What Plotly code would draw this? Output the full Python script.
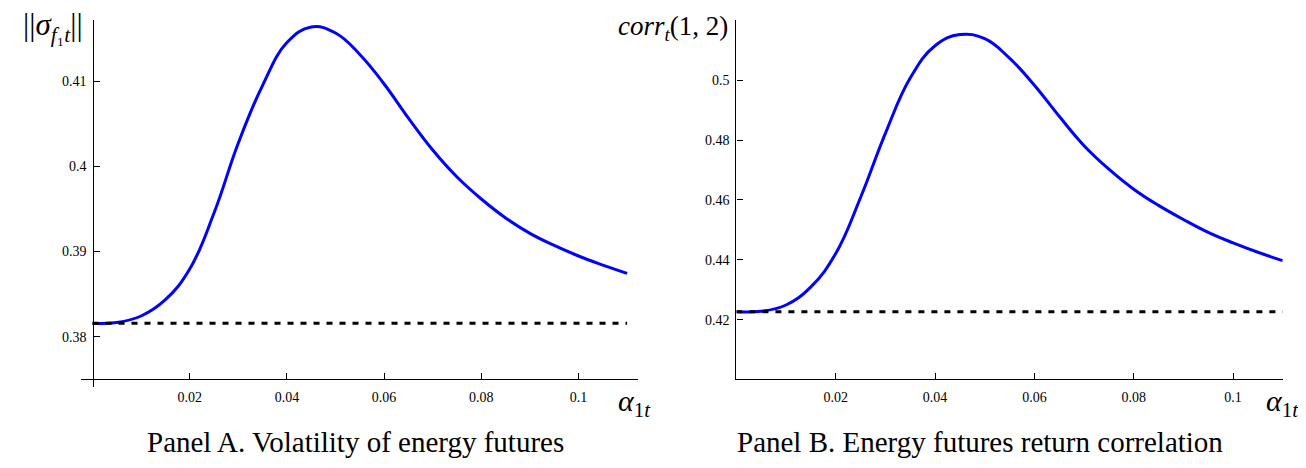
import plotly.graph_objects as go

# ---- data ----
alpha = [0.0, 0.005, 0.01, 0.015, 0.02, 0.025, 0.03, 0.035, 0.04, 0.045,
         0.05, 0.055, 0.06, 0.065, 0.07, 0.075, 0.08, 0.085, 0.09, 0.095, 0.1, 0.105, 0.11]
vol_futures = [0.38157, 0.38167, 0.38243, 0.38434, 0.38794, 0.39451, 0.40273, 0.40950,
               0.41451, 0.41634, 0.41563, 0.41312, 0.40965, 0.40565, 0.40191,
               0.39874, 0.39616, 0.39394, 0.39213, 0.39071, 0.38947, 0.38841, 0.38744]
corr_futures = [0.42277, 0.42290, 0.42500, 0.43103, 0.44217, 0.46083, 0.48223, 0.50067,
                0.51143, 0.51513, 0.51377, 0.50727, 0.49827, 0.48790, 0.47810,
                0.47027, 0.46360, 0.45820, 0.45350, 0.44920, 0.44570, 0.44257, 0.43977]
baseline_x = [0.0, 0.11]
vol_baseline = [0.38157, 0.38157]
corr_baseline = [0.42277, 0.42277]

x_ticks = [0.02, 0.04, 0.06, 0.08, 0.1]
x_ticklabels = ["0.02", "0.04", "0.06", "0.08", "0.1"]
vol_ticks = [0.38, 0.39, 0.40, 0.41]
vol_ticklabels = ["0.38", "0.39", "0.4", "0.41"]
corr_ticks = [0.42, 0.44, 0.46, 0.48, 0.50]
corr_ticklabels = ["0.42", "0.44", "0.46", "0.48", "0.5"]

# page is 1306x468; the browser body has an 8px margin
OFF = 8
W, H = 1306 - 2 * OFF, 468 - 2 * OFF
def px(x):
    return (x - OFF) / W
def py(y):
    return (H - (y - OFF)) / H

SERIF = "Liberation Serif"
BLUE = "rgb(0,0,255)"

fig = go.Figure()

# Panel A
fig.add_trace(go.Scatter(x=alpha, y=vol_futures, mode="lines",
                         line=dict(color=BLUE, width=3, shape="spline", smoothing=1.2),
                         xaxis="x", yaxis="y", showlegend=False, hoverinfo="skip"))
fig.add_trace(go.Scatter(x=baseline_x, y=vol_baseline, mode="lines",
                         line=dict(color="black", width=3, dash="6px,7px"),
                         xaxis="x", yaxis="y", showlegend=False, hoverinfo="skip"))
# Panel B
fig.add_trace(go.Scatter(x=alpha, y=corr_futures, mode="lines",
                         line=dict(color=BLUE, width=3, shape="spline", smoothing=1.2),
                         xaxis="x2", yaxis="y2", showlegend=False, hoverinfo="skip"))
fig.add_trace(go.Scatter(x=baseline_x, y=corr_baseline, mode="lines",
                         line=dict(color="black", width=3, dash="6px,7px"),
                         xaxis="x2", yaxis="y2", showlegend=False, hoverinfo="skip"))

tickfont = dict(family=SERIF, size=14, color="black")
common_axis = dict(showgrid=False, zeroline=False, showline=True, linecolor="black",
                   linewidth=1.2, ticks="inside", tickcolor="black", tickwidth=1.2,
                   ticklen=6, tickfont=tickfont, fixedrange=True)

fig.update_layout(
    width=W, height=H,
    font=dict(family=SERIF, color="black"),
    margin=dict(l=0, r=0, t=0, b=0),
    paper_bgcolor="white", plot_bgcolor="rgba(0,0,0,0)",
    xaxis=dict(common_axis, domain=[px(81), px(638)], range=[-0.00237, 0.11224],
               anchor="free", position=py(379.3), tickvals=x_ticks,
               ticktext=x_ticklabels, ticklabelstandoff=5),
    yaxis=dict(common_axis, domain=[py(387), py(20)], range=[0.37410, 0.41716],
               anchor="free", position=px(92.5), tickvals=vol_ticks,
               ticktext=vol_ticklabels, ticklabelstandoff=3),
    xaxis2=dict(common_axis, domain=[px(736.4), px(1282.7)], range=[0, 0.11],
                anchor="y2", tickvals=x_ticks, ticktext=x_ticklabels,
                ticklabelstandoff=5),
    yaxis2=dict(common_axis, domain=[py(379), py(20)], range=[0.40033, 0.52],
                anchor="x2", tickvals=corr_ticks, ticktext=corr_ticklabels,
                ticklabelstandoff=3),
)

ann = []
ann.append(dict(x=px(85), y=py(27), xref="paper", yref="paper", xanchor="right",
                yanchor="middle", showarrow=False,
                text="||<i>σ</i><sub><i>f</i>₁<i>t</i></sub>||",
                font=dict(family=SERIF, size=31, color="black")))
ann.append(dict(x=px(730), y=py(28), xref="paper", yref="paper", xanchor="right",
                yanchor="middle", showarrow=False,
                text="<i>corr</i><sub><i>t</i></sub>(1, 2)",
                font=dict(family=SERIF, size=27, color="black")))
for xl in (616, 1264):
    ann.append(dict(x=px(xl), y=py(403), xref="paper", yref="paper", xanchor="left",
                    yanchor="middle", showarrow=False,
                    text="<i>α</i><sub>1<i>t</i></sub>",
                    font=dict(family=SERIF, size=30, color="black")))
ann.append(dict(x=px(355), y=py(460), xref="paper", yref="paper", xanchor="center",
                yanchor="bottom", showarrow=False,
                text="Panel A. Volatility of energy futures",
                font=dict(family=SERIF, size=29, color="black")))
ann.append(dict(x=px(980), y=py(460), xref="paper", yref="paper", xanchor="center",
                yanchor="bottom", showarrow=False,
                text="Panel B. Energy futures return correlation",
                font=dict(family=SERIF, size=29, color="black")))
fig.update_layout(annotations=ann)

fig.write_html("out.html")
